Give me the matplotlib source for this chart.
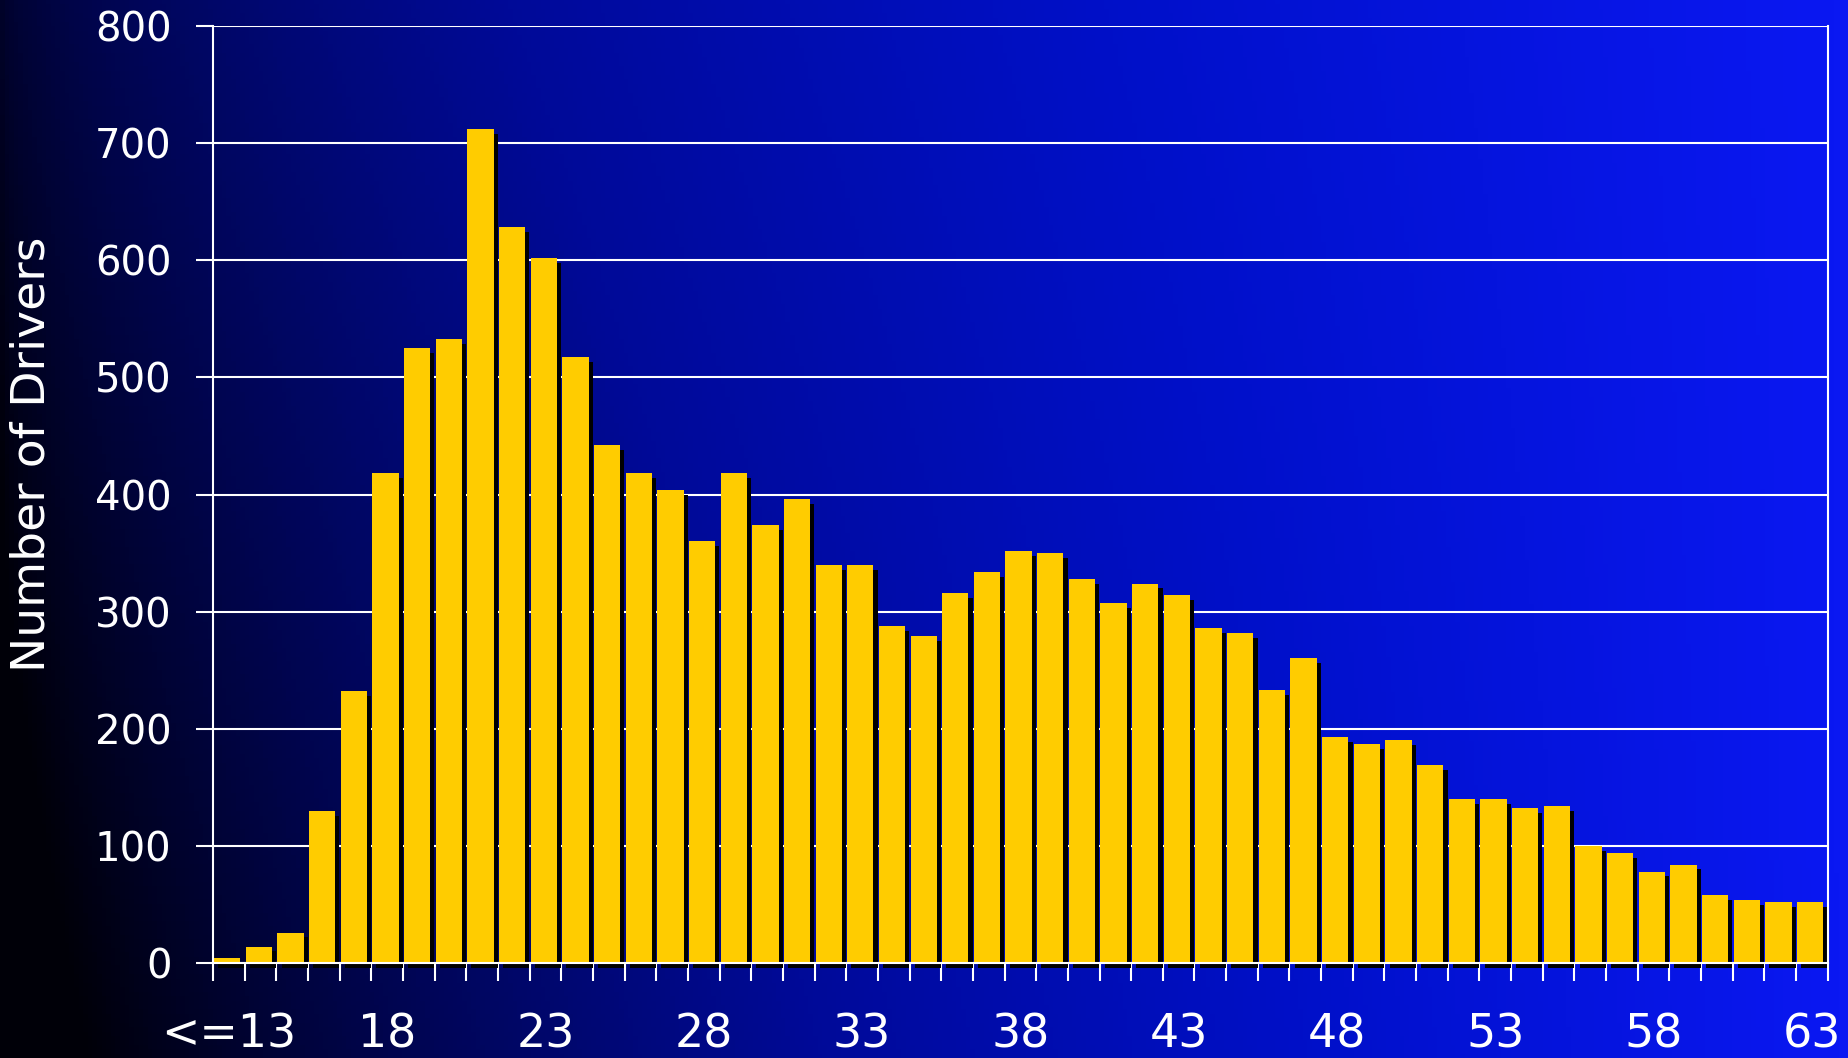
import numpy as np
import matplotlib
matplotlib.use("Agg")
import matplotlib.pyplot as plt
import matplotlib.patheffects as pe
from matplotlib.colors import LinearSegmentedColormap

# driver counts by age (first bin is <=13)
ages = list(range(13, 64))
counts = [4, 14, 26, 130, 232, 418, 525, 533, 712, 628,
          602, 517, 442, 418, 404, 360, 418, 374, 396, 340,
          340, 288, 279, 316, 334, 352, 350, 328, 307, 324,
          314, 286, 282, 233, 260, 193, 187, 190, 169, 140,
          140, 132, 134, 100, 94, 78, 84, 58, 54, 52, 52]
tick_ages = [13, 18, 23, 28, 33, 38, 43, 48, 53, 58, 63]
tick_labels = ['<=13', '18', '23', '28', '33', '38', '43', '48', '53', '58', '63']
yticks = [0, 100, 200, 300, 400, 500, 600, 700, 800]

fig = plt.figure(figsize=(18.48, 10.58), dpi=100)

# blue backdrop, dark on the left, bright on the right
bg = fig.add_axes([0, 0, 1, 1], zorder=-10)
bg.axis('off')
gx, gy = np.meshgrid(np.linspace(0, 1, 400), np.linspace(0, 1, 240))
t = np.clip(0.12 + 0.88 * gx ** 0.65 - 0.25 * (1 - gx) * gy, 0, 1)
cmap = LinearSegmentedColormap.from_list('bg', ['#000008', '#000550', '#000a98', '#0010c8', '#0a18f2'])
bg.imshow(t, cmap=cmap, aspect='auto', extent=[0, 1, 0, 1], origin='upper', vmin=0, vmax=1)
bg.set_xlim(0, 1); bg.set_ylim(0, 1)

ax = fig.add_axes([0.1153, 0.0898, 0.8737, 0.8856])
ax.patch.set_alpha(0)

x = np.arange(len(ages))
bars = ax.bar(x - 0.47, counts, width=0.83, align='edge', color='#FFCC00',
              edgecolor='none', zorder=3, clip_on=False)
for b in bars:
    b.set_path_effects([pe.SimplePatchShadow(offset=(3, -3.5), shadow_rgbFace='black', alpha=1.0),
                        pe.Normal()])

ax.set_xlim(-0.5, len(ages) - 0.5)
ax.set_ylim(0, 800)

ax.set_yticks(yticks)
ax.set_yticklabels([str(v) for v in yticks])
ax.grid(axis='y', color='white', linewidth=1.5, zorder=1)
ax.tick_params(axis='y', colors='white', length=12, width=1.5, pad=18, labelsize=29)

ax.set_xticks([ages.index(a) for a in tick_ages])
ax.set_xticklabels(tick_labels)
ax.set_xticks(np.arange(len(ages) + 1) - 0.5, minor=True)
ax.tick_params(axis='x', which='major', length=0, pad=36, labelsize=33, colors='white')
ax.tick_params(axis='x', which='minor', length=13, width=1.5, colors='white')

for side in ['left', 'right', 'bottom']:
    ax.spines[side].set_color('white')
    ax.spines[side].set_linewidth(1.5)
    ax.spines[side].set_zorder(4)
ax.spines['top'].set_visible(False)

ax.set_ylabel('Number of Drivers', color='white', fontsize=34)
ax.yaxis.set_label_coords(-0.098, 0.543)

fig.savefig('out.png', dpi=100)
